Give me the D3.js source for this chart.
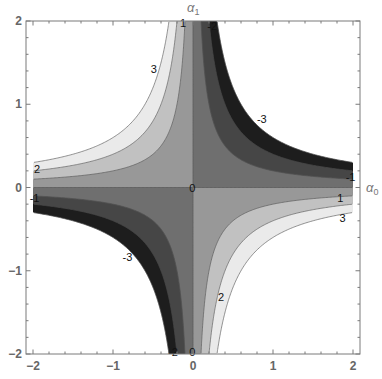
<!DOCTYPE html>
<html>
<head>
<meta charset="utf-8">
<script src="https://cdn.jsdelivr.net/npm/d3@7"></script>
<style>
  html, body { margin: 0; padding: 0; background: #fff; }
  svg { display: block; }
</style>
</head>
<body>
<svg id="chart" width="382" height="379"></svg>
<script>
// Contour plot of f(a0, a1) = k * a0 * a1 over [-2, 2] x [-2, 2]
const coefficient = -5;
const xDomain = [-2, 2];
const yDomain = [-2, 2];
const contourLevels = [-3, -2, -1, 0, 1, 2, 3];
const xTicks = [-2, -1, 0, 1, 2];
const yTicks = [-2, -1, 0, 1, 2];
// contour labels: level and where it sits (data coordinates)
const labelText = ["1", "-2", "3", "2", "-1", "-3", "-2", "0", "0", "-3", "-1", "1", "3", "2"];
const labelX = [-0.125, 0.24, -0.49, -1.95, -1.98, -0.82, -0.25, -0.01, -0.01, 0.86, 1.97, 1.84, 1.87, 0.35];
const labelY = [1.97, 1.94, 1.42, 0.22, -0.13, -0.83, -1.97, 0.0, -1.98, 0.82, 0.13, -0.13, -0.37, -1.31];

const svg = d3.select("#chart");
const plot = { left: 33, right: 353, top: 21, bottom: 354 };
const frame = { left: 26, right: 360, top: 21, bottom: 354 };

const x = d3.scaleLinear().domain(xDomain).range([plot.left, plot.right]);
const y = d3.scaleLinear().domain(yDomain).range([plot.bottom, plot.top]);

// sample the function on a grid whose nodes avoid the zero lines
const n = 240, m = 240;
const values = new Float64Array(n * m);
for (let j = 0; j < m; j++) {
  const yv = yDomain[1] - (j + 0.5) * (yDomain[1] - yDomain[0]) / m;
  for (let i = 0; i < n; i++) {
    const xv = xDomain[0] + (i + 0.5) * (xDomain[1] - xDomain[0]) / n;
    values[j * n + i] = coefficient * xv * yv;
  }
}

const contours = d3.contours().size([n, m]).thresholds(contourLevels)(values);

const proj = d3.geoTransform({
  point(gx, gy) {
    const xv = xDomain[0] + gx * (xDomain[1] - xDomain[0]) / n;
    const yv = yDomain[1] - gy * (yDomain[1] - yDomain[0]) / m;
    this.stream.point(x(xv), y(yv));
  }
});
const path = d3.geoPath(proj);

const lo = contourLevels[0], hi = contourLevels[contourLevels.length - 1];
function bandFill(t) {
  if (t >= hi) return "#ffffff";
  const g = Math.round(8 + 247 * ((t + 0.5 - lo) / (hi - lo)));
  return `rgb(${g},${g},${g})`;
}

const defs = svg.append("defs");
defs.append("clipPath").attr("id", "clipPlot").append("rect")
  .attr("x", plot.left).attr("y", plot.top)
  .attr("width", plot.right - plot.left).attr("height", plot.bottom - plot.top);
defs.append("clipPath").attr("id", "clipInner").append("rect")
  .attr("x", plot.left + 1).attr("y", plot.top + 1)
  .attr("width", plot.right - plot.left - 2).attr("height", plot.bottom - plot.top - 2);

const gFill = svg.append("g").attr("clip-path", "url(#clipPlot)");
gFill.selectAll("path").data(contours).join("path")
  .attr("d", path)
  .attr("fill", d => bandFill(d.value))
  .attr("stroke", d => bandFill(d.value))
  .attr("stroke-width", 0.3);

const gLines = svg.append("g").attr("clip-path", "url(#clipInner)");
gLines.selectAll("path").data(contours).join("path")
  .attr("d", path)
  .attr("fill", "none")
  .attr("stroke", "#4a4a4a")
  .attr("stroke-opacity", 0.75)
  .attr("stroke-width", 0.8);

// contour labels
svg.append("g").selectAll("text").data(labelText).join("text")
  .attr("x", (d, i) => x(labelX[i]))
  .attr("y", (d, i) => y(labelY[i]))
  .attr("text-anchor", "middle")
  .attr("dominant-baseline", "central")
  .attr("font-family", "Liberation Sans, Arial, sans-serif")
  .attr("font-size", 11)
  .attr("fill", "#111")
  .text(d => d);

// frame
const frameColor = "#7a7a7a";
svg.append("rect")
  .attr("x", frame.left).attr("y", frame.top)
  .attr("width", frame.right - frame.left).attr("height", frame.bottom - frame.top)
  .attr("fill", "none").attr("stroke", frameColor).attr("stroke-width", 1);

// ticks: majors at integers, minors every 0.2
const minorX = d3.range(-10, 11).map(k => k / 5);
const gTicks = svg.append("g").attr("stroke", frameColor).attr("stroke-width", 1);
minorX.forEach(v => {
  const major = Math.abs(v - Math.round(v)) < 1e-9;
  const len = major ? 4.5 : 2.5;
  const px = x(v), py = y(v);
  gTicks.append("line").attr("x1", px).attr("x2", px).attr("y1", frame.bottom).attr("y2", frame.bottom - len);
  gTicks.append("line").attr("x1", px).attr("x2", px).attr("y1", frame.top).attr("y2", frame.top + len);
  gTicks.append("line").attr("y1", py).attr("y2", py).attr("x1", frame.left).attr("x2", frame.left + len);
  gTicks.append("line").attr("y1", py).attr("y2", py).attr("x1", frame.right).attr("x2", frame.right - len);
});

const tickFont = "Liberation Sans, Arial, sans-serif";
const fmt = v => (v < 0 ? "\u2212" + Math.abs(v) : String(v));
svg.append("g").selectAll("text").data(xTicks).join("text")
  .attr("x", d => x(d)).attr("y", frame.bottom + 12)
  .attr("text-anchor", "middle").attr("dominant-baseline", "central")
  .attr("font-family", tickFont).attr("font-size", 12).attr("font-weight", "bold")
  .attr("fill", "#666").text(fmt);
svg.append("g").selectAll("text").data(yTicks).join("text")
  .attr("x", frame.left - 4).attr("y", d => y(d))
  .attr("text-anchor", "end").attr("dominant-baseline", "central")
  .attr("font-family", tickFont).attr("font-size", 12).attr("font-weight", "bold")
  .attr("fill", "#666").text(fmt);

// axis titles
function axisTitle(px, py, sub) {
  const t = svg.append("text").attr("x", px).attr("y", py)
    .attr("font-family", "Liberation Sans, Arial, sans-serif")
    .attr("font-size", 13).attr("fill", "#777");
  t.append("tspan").attr("font-style", "italic").text("\u03b1");
  t.append("tspan").attr("font-size", 9).attr("dy", 3).text(sub);
}
axisTitle(x(0) - 6, 12, "1");
axisTitle(frame.right + 6, y(0) + 4, "0");
</script>
</body>
</html>
